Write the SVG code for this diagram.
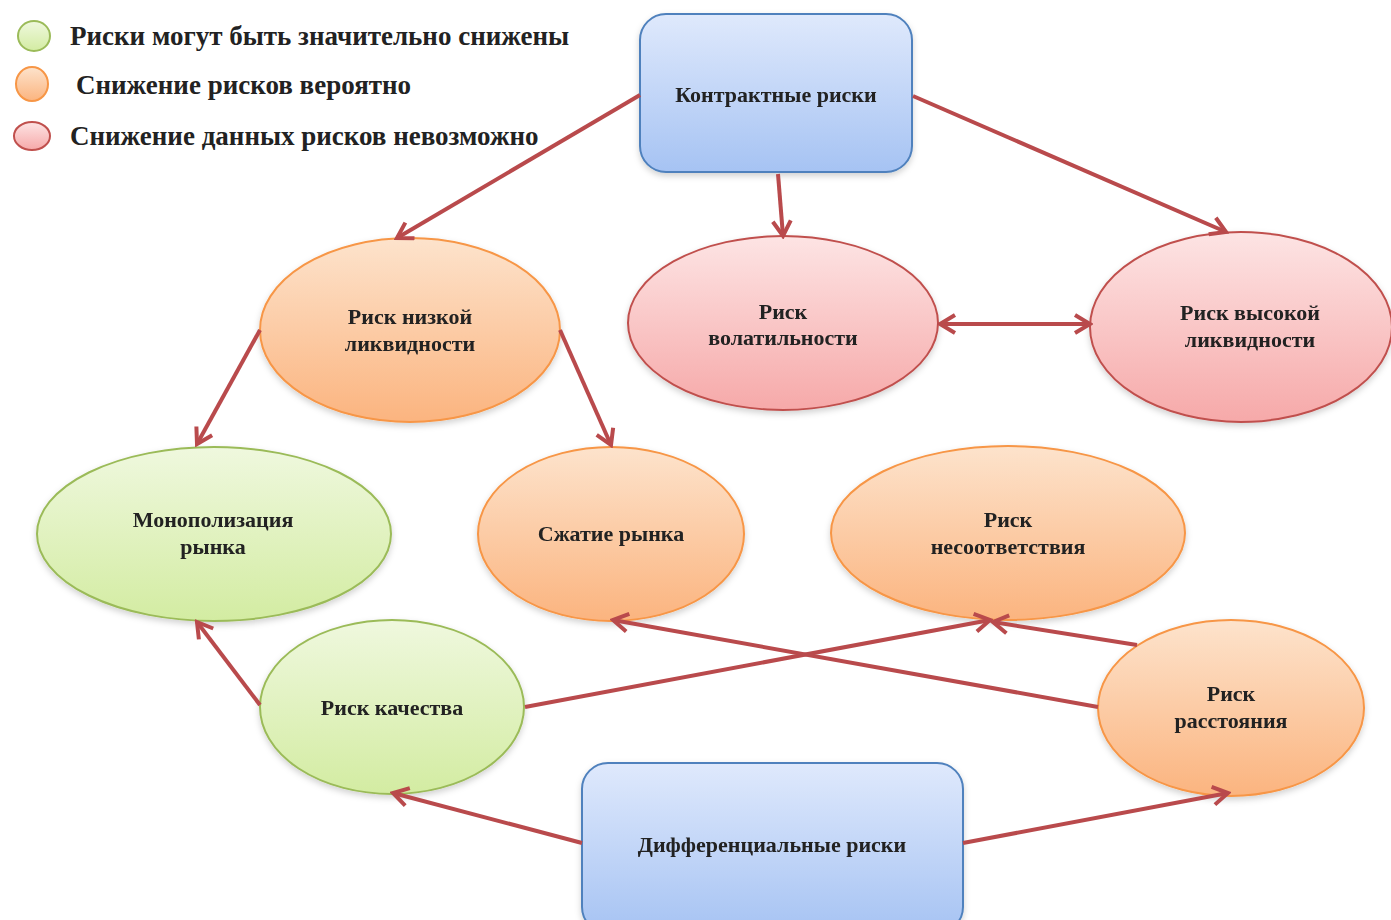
<svg xmlns="http://www.w3.org/2000/svg" width="1391" height="920" viewBox="0 0 1391 920">
<style>
text{font-family:"Liberation Serif","DejaVu Serif",serif;fill:#222;font-weight:bold}
.lg{font-size:27px}
.nt{font-size:22px;text-anchor:middle}
.con{stroke:#b94a4c;stroke-width:4;fill:none}
.box{fill:url(#gBlue);stroke:#4f81bd;stroke-width:2}
.og{fill:url(#gOrange);stroke:#f79646;stroke-width:2}
.rd{fill:url(#gRed);stroke:#c0504d;stroke-width:2}
.gr{fill:url(#gGreen);stroke:#9bbb59;stroke-width:2}
</style>
<defs>
<linearGradient id="gBlue" x1="0" y1="0" x2="0" y2="1"><stop offset="0" stop-color="#dfe9fc"/><stop offset="1" stop-color="#a6c3f3"/></linearGradient>
<linearGradient id="gOrange" x1="0" y1="0" x2="0" y2="1"><stop offset="0" stop-color="#fde3cc"/><stop offset="1" stop-color="#fbb47f"/></linearGradient>
<linearGradient id="gRed" x1="0" y1="0" x2="0" y2="1"><stop offset="0" stop-color="#fde4e4"/><stop offset="1" stop-color="#f6a9a9"/></linearGradient>
<linearGradient id="gGreen" x1="0" y1="0" x2="0" y2="1"><stop offset="0" stop-color="#eff8de"/><stop offset="1" stop-color="#d3eca2"/></linearGradient>
<filter id="sh" x="-10%" y="-10%" width="120%" height="130%"><feDropShadow dx="0" dy="3" stdDeviation="3" flood-color="#000" flood-opacity="0.18"/></filter>
<marker id="ah" viewBox="0 0 22 22" refX="19" refY="11" markerWidth="22" markerHeight="22" markerUnits="userSpaceOnUse" orient="auto-start-reverse">
<path d="M4,2 L19,11 L4,20" fill="none" stroke="#b94a4c" stroke-width="4"/>
</marker>
</defs>
<rect width="1391" height="920" fill="#fff"/>

<g id="legend">
<ellipse cx="34" cy="36" rx="16" ry="15" class="gr"/>
<ellipse cx="32" cy="84" rx="16" ry="17" class="og"/>
<ellipse cx="32" cy="136" rx="18" ry="14" class="rd"/>
<text class="lg" x="70" y="45">Риски могут быть значительно снижены</text>
<text class="lg" x="76" y="94">Снижение рисков вероятно</text>
<text class="lg" x="70" y="145">Снижение данных рисков невозможно</text>
</g>

<g id="n-contract" filter="url(#sh)">
<rect x="640" y="14" width="272" height="158" rx="26" class="box"/>
<text class="nt" x="776" y="102">Контрактные риски</text>
</g>
<g id="n-diff" filter="url(#sh)">
<rect x="582" y="763" width="381" height="170" rx="26" class="box"/>
<text class="nt" x="772" y="852">Дифференциальные риски</text>
</g>
<g id="n-lowliq" filter="url(#sh)">
<ellipse cx="410" cy="330" rx="150" ry="92" class="og"/>
<text class="nt" x="410" y="324">Риск низкой</text>
<text class="nt" x="410" y="351">ликвидности</text>
</g>
<g id="n-volat" filter="url(#sh)">
<ellipse cx="783" cy="323" rx="155" ry="87" class="rd"/>
<text class="nt" x="783" y="319">Риск</text>
<text class="nt" x="783" y="345">волатильности</text>
</g>
<g id="n-highliq" filter="url(#sh)">
<ellipse cx="1241" cy="327" rx="151" ry="95" class="rd"/>
<text class="nt" x="1250" y="320">Риск высокой</text>
<text class="nt" x="1250" y="347">ликвидности</text>
</g>
<g id="n-monop" filter="url(#sh)">
<ellipse cx="214" cy="534" rx="177" ry="87" class="gr"/>
<text class="nt" x="213" y="527">Монополизация</text>
<text class="nt" x="213" y="554">рынка</text>
</g>
<g id="n-squeeze" filter="url(#sh)">
<ellipse cx="611" cy="534" rx="133" ry="87" class="og"/>
<text class="nt" x="611" y="541">Сжатие рынка</text>
</g>
<g id="n-mismatch" filter="url(#sh)">
<ellipse cx="1008" cy="533" rx="177" ry="87" class="og"/>
<text class="nt" x="1008" y="527">Риск</text>
<text class="nt" x="1008" y="554">несоответствия</text>
</g>
<g id="n-quality" filter="url(#sh)">
<ellipse cx="392" cy="707" rx="132" ry="87" class="gr"/>
<text class="nt" x="392" y="715">Риск качества</text>
</g>
<g id="n-distance" filter="url(#sh)">
<ellipse cx="1231" cy="708" rx="133" ry="88" class="og"/>
<text class="nt" x="1231" y="701">Риск</text>
<text class="nt" x="1231" y="728">расстояния</text>
</g>

<g id="connectors">
<path class="con" d="M640,95 L397,238" marker-end="url(#ah)"/>
<path class="con" d="M778,174 L783,236" marker-end="url(#ah)"/>
<path class="con" d="M913,96 L1226,232" marker-end="url(#ah)"/>
<path class="con" d="M940,324 L1090,324" marker-start="url(#ah)" marker-end="url(#ah)"/>
<path class="con" d="M260,330 L197,444" marker-end="url(#ah)"/>
<path class="con" d="M560,330 L611,445" marker-end="url(#ah)"/>
<path class="con" d="M260,705 L197,622" marker-end="url(#ah)"/>
<path class="con" d="M525,707 L990,620" marker-end="url(#ah)"/>
<path class="con" d="M1098,707 L613,620" marker-end="url(#ah)"/>
<path class="con" d="M1137,645 L993,622" marker-end="url(#ah)"/>
<path class="con" d="M582,843 L393,793" marker-end="url(#ah)"/>
<path class="con" d="M963,843 L1228,793" marker-end="url(#ah)"/>
</g>
</svg>
